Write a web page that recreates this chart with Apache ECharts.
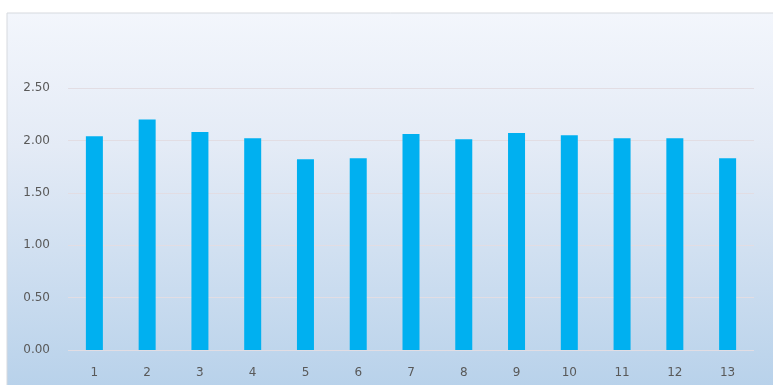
<!DOCTYPE html>
<html>
<head>
<meta charset="utf-8">
<script src="https://cdn.jsdelivr.net/npm/echarts@6/dist/echarts.min.js"></script>
<style>html,body{margin:0;padding:0;background:#fff;}#c{width:773px;height:385px;}</style>
</head>
<body>
<div id="c"></div>
<script>
var categories = ['1','2','3','4','5','6','7','8','9','10','11','12','13'];
var values = [2.04, 2.20, 2.08, 2.02, 1.82, 1.83, 2.06, 2.01, 2.07, 2.05, 2.02, 2.02, 1.83];
var yTicks = [0, 0.5, 1, 1.5, 2, 2.5];

var chart = echarts.init(document.getElementById('c'), null, {renderer: 'canvas'});
chart.setOption({
  animation: false,
  graphic: [{
    type: 'rect', z: -10, silent: true,
    shape: {x: 7, y: 13, width: 770, height: 380},
    style: {
      fill: new echarts.graphic.LinearGradient(0, 0, 0, 1, [
        {offset: 0, color: '#f3f6fc'},
        {offset: 0.35, color: '#e4ebf6'},
        {offset: 1, color: '#b7d1ea'}
      ]),
      stroke: '#d6d9de', lineWidth: 1
    }
  }],
  grid: {left: 68, right: 19, top: 88, bottom: 35, containLabel: false},
  xAxis: {
    type: 'category', data: categories,
    axisLine: {show: false}, axisTick: {show: false},
    axisLabel: {color: '#595959', fontSize: 12, fontFamily: 'DejaVu Sans', margin: 17}
  },
  yAxis: {
    type: 'value', min: 0, max: yTicks[yTicks.length-1], interval: 0.5,
    axisLine: {show: false}, axisTick: {show: false},
    axisLabel: {color: '#595959', fontSize: 12, fontFamily: 'DejaVu Sans', margin: 18,
      formatter: function(v){ return v.toFixed(2); }},
    splitLine: {lineStyle: {color: '#e2dde3', width: 1}}
  },
  series: [{
    type: 'bar', data: values, barWidth: 17,
    itemStyle: {color: '#00b0f0'}
  }]
});
</script>
</body>
</html>
